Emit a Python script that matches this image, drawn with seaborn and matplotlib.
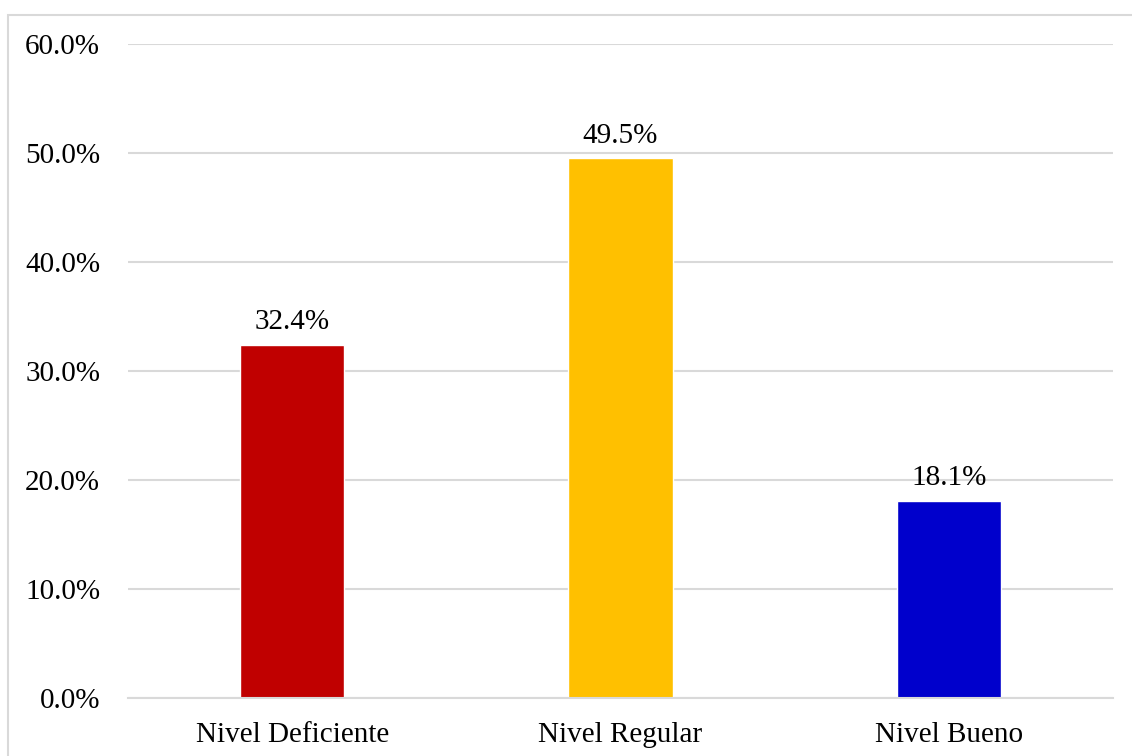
import matplotlib
matplotlib.use("Agg")
import matplotlib.pyplot as plt
import matplotlib.patches as mpatches
import seaborn as sns
import pandas as pd
from matplotlib.ticker import PercentFormatter

# datos
niveles = ["Nivel Deficiente", "Nivel Regular", "Nivel Bueno"]
porcentajes = [32.4, 49.5, 18.1]
colores = ["#C00000", "#FFC000", "#0000CC"]

df = pd.DataFrame({"nivel": niveles, "pct": porcentajes})

sns.set_style("white")
plt.rcParams["font.family"] = ["Liberation Serif", "DejaVu Serif"]

fig = plt.figure(figsize=(11.32, 7.56), dpi=100)
ax = fig.add_axes([128 / 1132, 1 - 698 / 756, 985 / 1132, 654 / 756])

sns.barplot(data=df, x="nivel", y="pct", hue="nivel", palette=colores,
            width=0.317, legend=False, ax=ax, saturation=1)

# etiquetas encima de las barras
for barra, valor in zip(ax.patches, porcentajes):
    x = barra.get_x() + barra.get_width() / 2
    ax.text(x, valor + 0.9, f"{valor:.1f}%", ha="center", va="bottom",
            fontsize=21, color="black")

ax.set_ylim(0, 60)
ax.set_yticks(range(0, 61, 10))
ax.yaxis.set_major_formatter(PercentFormatter(decimals=1))
ax.grid(axis="y", color="#D9D9D9", linewidth=1.5)
ax.set_axisbelow(True)
for lado in ["top", "right", "left"]:
    ax.spines[lado].set_visible(False)
ax.spines["bottom"].set_color("#D9D9D9")
ax.spines["bottom"].set_linewidth(1.5)
ax.tick_params(axis="both", length=0, labelsize=21, colors="black")
ax.tick_params(axis="y", pad=20)
ax.tick_params(axis="x", pad=17)
ax.set_xlabel("")
ax.set_ylabel("")

# borde del gráfico
borde = mpatches.Rectangle((8 / 1132, -0.05), 1.1, 1 - 15 / 756 + 0.05,
                           transform=fig.transFigure, fill=False,
                           edgecolor="#D9D9D9", linewidth=1.5)
fig.patches.append(borde)

fig.savefig("out.png", dpi=100)
